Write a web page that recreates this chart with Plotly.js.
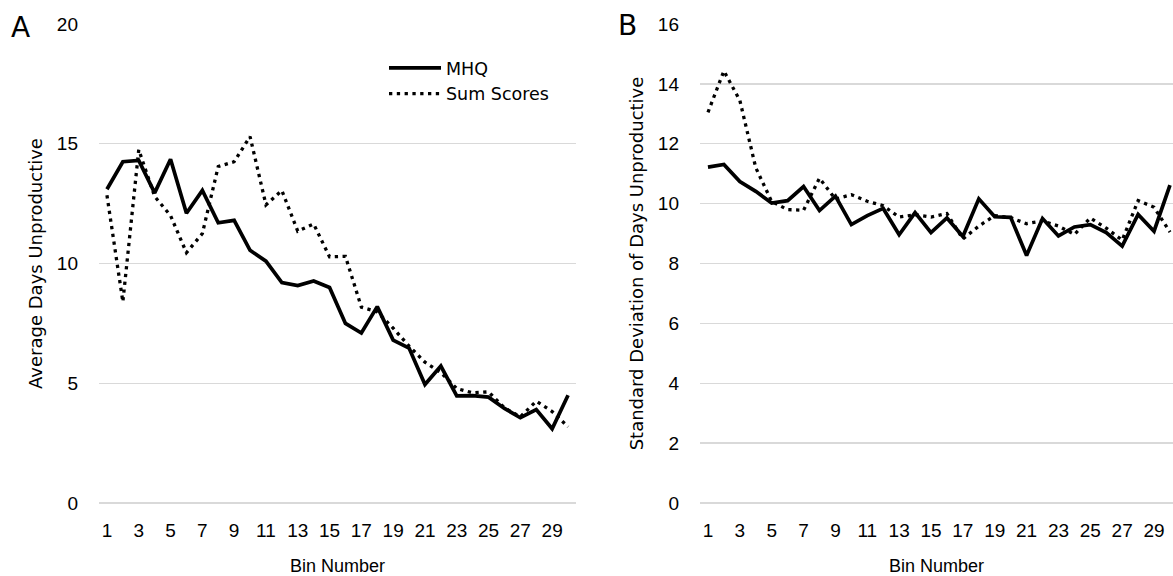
<!DOCTYPE html>
<html>
<head>
<meta charset="utf-8">
<script src="https://cdn.plot.ly/plotly-3.0.1.min.js"></script>
<style>html,body{margin:0;padding:0;background:#fff;}#chart{width:1173px;height:576px;}</style>
</head>
<body>
<div id="chart"></div>
<script>
// Bin numbers (x categories)
const bins = [1,2,3,4,5,6,7,8,9,10,11,12,13,14,15,16,17,18,19,20,21,22,23,24,25,26,27,28,29,30];
const tickBins = [1,3,5,7,9,11,13,15,17,19,21,23,25,27,29];
const tickLabels = ["1","3","5","7","9","11","13","15","17","19","21","23","25","27","29"];

// Panel A: average days unproductive
const mhqAvg = [13.1,14.25,14.3,12.95,14.35,12.1,13.05,11.7,11.8,10.55,10.1,9.2,9.08,9.27,9.0,7.5,7.1,8.2,6.8,6.47,4.95,5.72,4.47,4.48,4.42,3.95,3.56,3.9,3.1,4.5];
const sumAvg = [12.85,8.4,14.75,12.8,12.0,10.45,11.25,14.05,14.25,15.3,12.45,13.05,11.35,11.65,10.28,10.3,8.18,7.98,7.3,6.55,5.88,5.45,4.78,4.6,4.64,3.97,3.6,4.25,3.82,3.18];

// Panel B: standard deviation of days unproductive
const mhqSD = [11.22,11.31,10.74,10.41,10.02,10.1,10.57,9.77,10.25,9.3,9.6,9.84,8.96,9.7,9.03,9.52,8.9,10.16,9.56,9.54,8.27,9.5,8.92,9.22,9.3,9.03,8.58,9.64,9.08,10.62];
const sumSD = [13.05,14.43,13.45,11.2,10.07,9.8,9.78,10.85,10.15,10.3,10.08,9.93,9.55,9.63,9.55,9.67,8.82,9.25,9.6,9.53,9.33,9.42,9.25,8.97,9.52,9.18,8.78,10.1,9.88,9.05];

const solid = {color:'#000', width:3.7, dash:'solid'};
const dotted = {color:'#000', width:3.3, dash:'3.3px,4.5px'};

const traces = [
  {x:bins, y:mhqAvg, type:'scatter', mode:'lines', name:'MHQ', line:solid, xaxis:'x', yaxis:'y'},
  {x:bins, y:sumAvg, type:'scatter', mode:'lines', name:'Sum Scores', line:dotted, xaxis:'x', yaxis:'y'},
  {x:bins, y:mhqSD, type:'scatter', mode:'lines', name:'MHQ', line:solid, xaxis:'x2', yaxis:'y2', showlegend:false},
  {x:bins, y:sumSD, type:'scatter', mode:'lines', name:'Sum Scores', line:dotted, xaxis:'x2', yaxis:'y2', showlegend:false}
];

const tickFont = {family:'Liberation Sans, Arial, sans-serif', size:19, color:'#000'};
const titleFont = {family:'DejaVu Sans, sans-serif', size:18, color:'#000'};
const xTitleFont = {family:'Liberation Sans, Arial, sans-serif', size:18, color:'#000'};
const grid = '#d9d9d9';

function xAxis(domain, range, anchor){
  return {domain:domain, range:range, anchor:anchor, tickmode:'array', tickvals:tickBins, ticktext:tickLabels,
    showgrid:false, zeroline:false, showline:false, ticks:'', tickfont:tickFont, ticklabelstandoff:14,
    automargin:false, fixedrange:true,
    title:{text:'Bin Number', font:xTitleFont, standoff:19}};
}
function yAxis(domain, range, dtick, anchor, title){
  return {domain:domain, range:range, dtick:dtick, tick0:0, anchor:anchor,
    showgrid:true, gridcolor:grid, gridwidth:1.4, zeroline:true, zerolinecolor:grid, zerolinewidth:1.4,
    showline:false, ticks:'', tickfont:tickFont, ticklabelstandoff:20, automargin:false, fixedrange:true,
    title:{text:title, font:titleFont, standoff:9}};
}

const layout = {
  width:1173, height:576,
  margin:{l:0, r:0, t:0, b:0},
  paper_bgcolor:'#fff', plot_bgcolor:'#fff',
  showlegend:true,
  legend:{x:384/1173, y:1-50/576, xanchor:'left', yanchor:'top', bgcolor:'rgba(0,0,0,0)',
    font:{family:'DejaVu Sans, sans-serif', size:17.5, color:'#000'}, itemwidth:52, tracegroupgap:0},
  xaxis: xAxis([99/1173, 576/1173], [0.5, 30.5], 'y'),
  yaxis: yAxis([(576-503)/576, (576-24)/576], [0,20], 5, 'x', 'Average Days Unproductive'),
  xaxis2: xAxis([700/1173, 1], [0.5, 30.19], 'y2'),
  yaxis2: yAxis([(576-503)/576, (576-24)/576], [0,16], 2, 'x2', 'Standard Deviation of Days Unproductive'),
  annotations:[
    {text:'A', xref:'paper', yref:'paper', x:9/1173, y:1-27/576, xanchor:'left', yanchor:'middle', showarrow:false,
     font:{family:'DejaVu Sans, sans-serif', size:28, color:'#000'}},
    {text:'B', xref:'paper', yref:'paper', x:616/1173, y:1-26/576, xanchor:'left', yanchor:'middle', showarrow:false,
     font:{family:'DejaVu Sans, sans-serif', size:28, color:'#000'}}
  ]
};

Plotly.newPlot('chart', traces, layout, {displayModeBar:false, staticPlot:true});
</script>
</body>
</html>
